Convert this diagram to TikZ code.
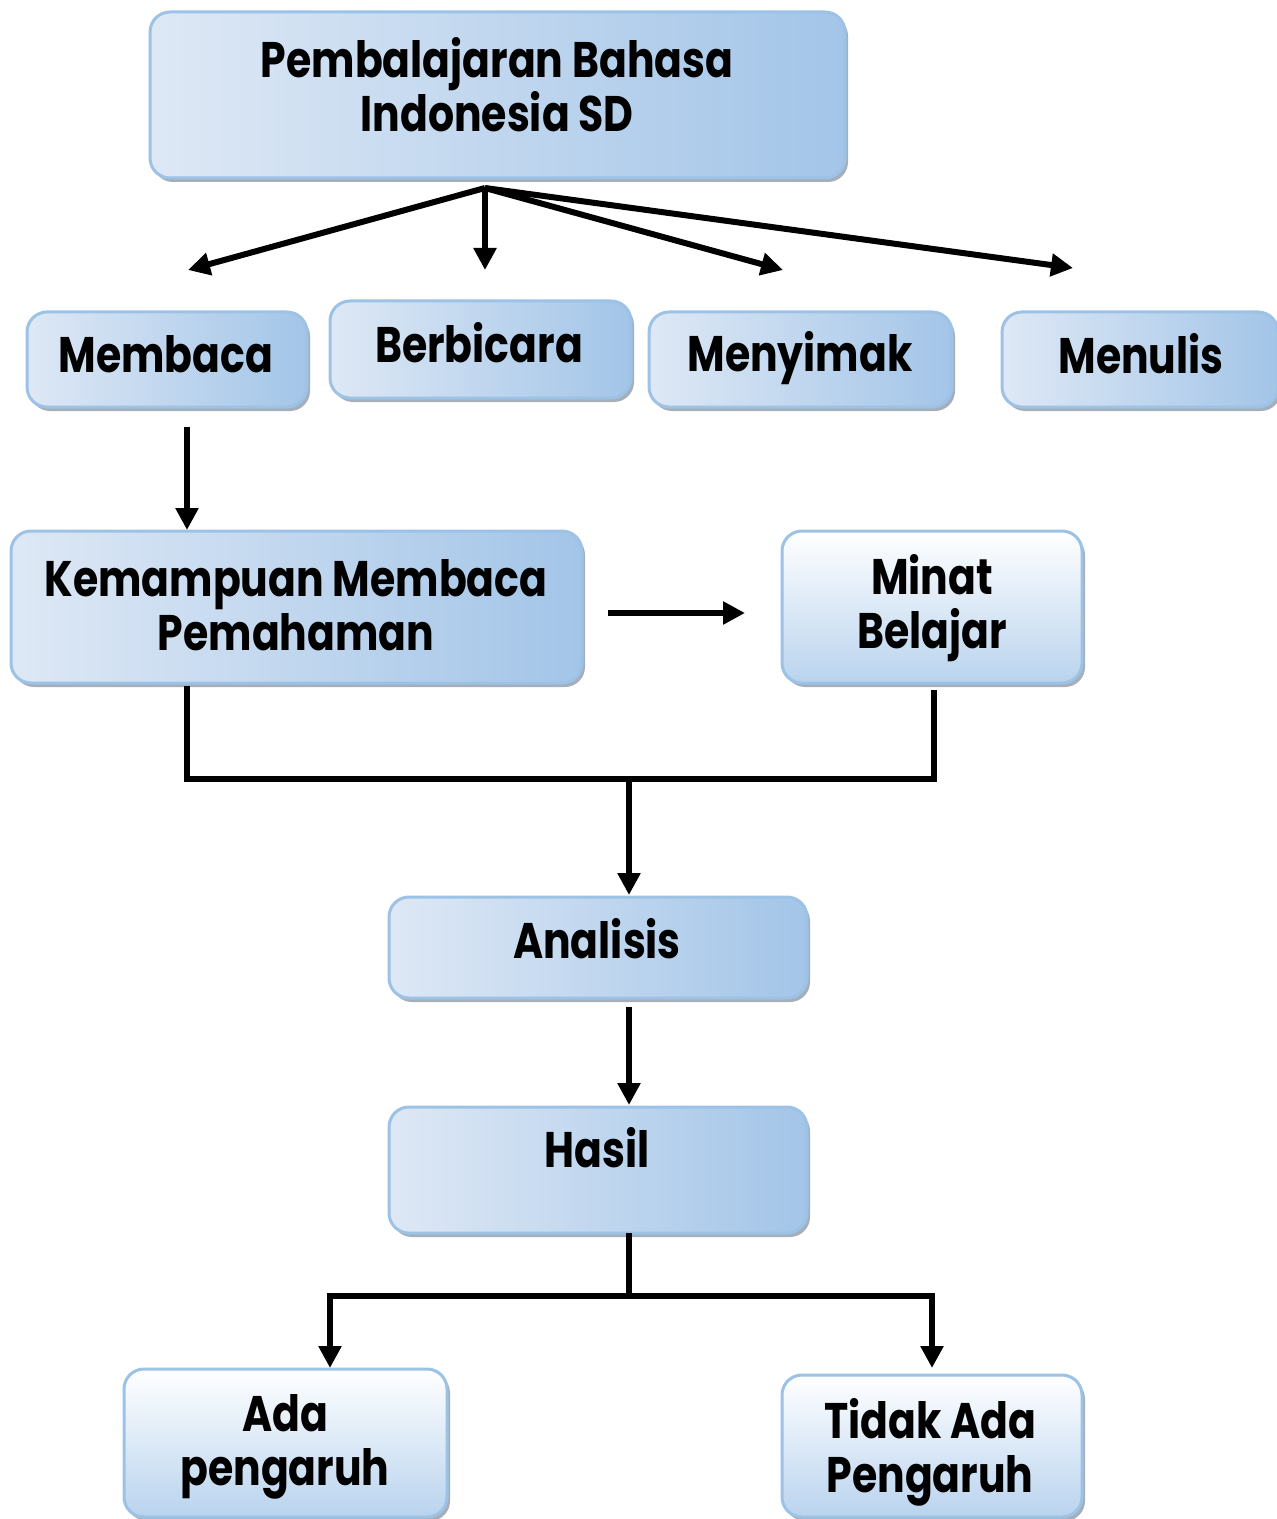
\documentclass[tikz,border=0pt]{standalone}
\usepackage{fontspec}
\setmainfont{Poppins}[FakeStretch=0.82]
\usetikzlibrary{arrows.meta,shadows}
\definecolor{bxL}{HTML}{DEE8F5}
\definecolor{bxR}{HTML}{A3C5E8}
\definecolor{bxB}{HTML}{9CC2E5}
\definecolor{bxW}{HTML}{FFFFFF}
\definecolor{bxD}{HTML}{B9D3EE}
\definecolor{shd}{HTML}{8E9AA8}
\begin{document}
\begin{tikzpicture}[x=0.5pt,y=-0.5pt,
  box/.style={draw=bxB, line width=1.5pt, rounded corners=10pt,
    left color=bxL, right color=bxR,
    drop shadow={shadow xshift=1.5pt, shadow yshift=-2pt, fill=shd, opacity=0.8}},
  vbox/.style={box, top color=bxW, bottom color=bxD},
  lbl/.style={align=center, font=\bfseries\fontsize{25}{27}\selectfont, inner sep=0pt},
  arr/.style={line width=3pt, -{Triangle[length=11pt,width=11pt]}},
  ln/.style={line width=3pt}]
\useasboundingbox (0,0) rectangle (1277,1519);
% boxes
\node[box, minimum width=347.5pt, minimum height=83pt] (top) at (497.5,95) {};
\node[box, minimum width=140pt, minimum height=47.5pt] (membaca) at (167,359.5) {};
\node[box, minimum width=150.5pt, minimum height=48.5pt] (berbicara) at (480.5,349.5) {};
\node[box, minimum width=151.5pt, minimum height=47.5pt] (menyimak) at (800.5,359.5) {};
\node[box, minimum width=138pt, minimum height=47.5pt] (menulis) at (1140,359.5) {};
\node[box, minimum width=285.5pt, minimum height=76pt] (kemampuan) at (296.5,607) {};
\node[vbox, minimum width=150pt, minimum height=76pt] (minat) at (932,607) {};
\node[box, minimum width=209pt, minimum height=50.5pt] (analisis) at (598,947.5) {};
\node[box, minimum width=209pt, minimum height=63pt] (hasil) at (598,1170) {};
\node[vbox, minimum width=161.5pt, minimum height=74pt] (ada) at (285.5,1443) {};
\node[vbox, minimum width=150pt, minimum height=71pt] (tidak) at (932,1446) {};
% labels
\node[lbl] (ttop) at (497,85) {Pembalajaran Bahasa\\Indonesia SD};
\node[lbl] (tmembaca) at (166,354) {Membaca};
\node[lbl] (tberbicara) at (479,343) {Berbicara};
\node[lbl] (tmenyimak) at (800,358) {Menyimak};
\node[lbl] (tmenulis) at (1141,354) {Menulis};
\node[lbl] (tkemampuan) at (296,605) {Kemampuan Membaca\\Pemahaman};
\node[lbl] (tminat) at (932,608) {Minat\\Belajar};
\node[lbl] (tanalisis) at (597,939) {Analisis};
\node[lbl] (thasil) at (597,1148) {Hasil};
\node[lbl] (tada) at (285,1447) {Ada\\pengaruh};
\node[lbl] (ttidak) at (930,1452) {Tidak Ada\\Pengaruh};
% connector points
\coordinate (hub) at (485,188);
\coordinate (e1) at (188,270);
\coordinate (e2) at (485,270);
\coordinate (e3) at (783,270);
\coordinate (e4) at (1073,268);
\coordinate (mb) at (187,427);
\coordinate (kt) at (187,530);
\coordinate (ka) at (608,613);
\coordinate (ke) at (745,613);
\coordinate (kb) at (187,686);
\coordinate (mnb) at (934,690);
\coordinate (j1) at (629,779);
\coordinate (at) at (629,895);
\coordinate (ab) at (629,1007);
\coordinate (ht) at (629,1105);
\coordinate (hb) at (629,1233);
\coordinate (split) at (629,1296);
\coordinate (adat) at (330,1368);
\coordinate (tdt) at (932,1368);
% connectors
\draw[arr] (hub) -- (e1);
\draw[arr] (hub) -- (e2);
\draw[arr] (hub) -- (e3);
\draw[arr] (hub) -- (e4);
\draw[arr] (mb) -- (kt);
\draw[arr] (ka) -- (ke);
\draw[ln] (kb) |- (j1) -| (mnb);
\draw[arr] (j1) -- (at);
\draw[arr] (ab) -- (ht);
\draw[ln] (hb) -- (split);
\draw[arr] (split) -| (adat);
\draw[arr] (split) -| (tdt);
\end{tikzpicture}
\end{document}
